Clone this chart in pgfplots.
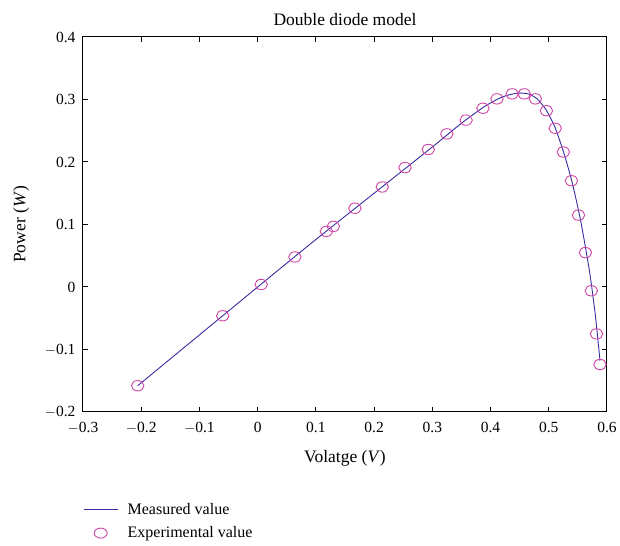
\documentclass[border=0pt]{standalone}
\usepackage{pgfplots}
\pgfplotsset{compat=1.18}
\usepackage{fontspec}
\setmainfont{Liberation Serif}
\definecolor{linec}{RGB}{55,45,160}
\definecolor{markc}{RGB}{205,70,165}
\begin{document}
\begin{tikzpicture}
\begin{axis}[
  scale only axis, width=524pt, height=375pt,
  xmin=-0.3, xmax=0.6, ymin=-0.2, ymax=0.4,
  xtick={-0.3,-0.2,...,0.6}, ytick={-0.2,-0.1,...,0.4},
  xticklabels={$-$0.3,$-$0.2,$-$0.1,0,0.1,0.2,0.3,0.4,0.5,0.6},
  yticklabels={$-$0.2,$-$0.1,0,0.1,0.2,0.3,0.4},
  tick align=inside, major tick length=5pt,
  axis line style={line width=1pt}, tick style={line width=1pt, black},
  ticklabel style={font=\fontsize{15.5}{17}\selectfont},
  xticklabel style={yshift=-7pt},
  yticklabel style={xshift=-4pt},
  /pgf/number format/assume math mode=true,
  title={Double diode model}, title style={font=\fontsize{17.5}{19}\selectfont, yshift=2pt},
  xlabel={Volatge (\textit{V})}, ylabel={Power (\textit{W})},
  label style={font=\fontsize{17.5}{19}\selectfont},
  xlabel style={yshift=-9pt},
  ylabel style={yshift=9pt},
  legend style={at={(0,-0.232)}, anchor=north west, draw=none, font=\fontsize{16}{18}\selectfont, row sep=7pt, fill=none, inner xsep=0pt},
  legend cell align=left,
]
\addplot[linec, line width=0.9pt, smooth, tension=0.4, legend image code/.code={\draw[line width=0.9pt,linec] (0pt,0pt) -- (34pt,0pt); \path[draw=none,fill=none] (0pt,0pt) -- (42pt,0pt);}] coordinates {
(-0.206,-0.158) (0.0,0.0) (0.1,0.076) (0.2,0.150) (0.3,0.224) (0.35,0.262) (0.39,0.289) (0.42,0.304) (0.445,0.310) (0.465,0.309) (0.48,0.301) (0.495,0.284) (0.51,0.257) (0.525,0.217) (0.54,0.168) (0.555,0.105) (0.57,0.025) (0.58,-0.045) (0.588,-0.118)};
\addlegendentry{Measured value}
\addplot[only marks, mark=o, mark size=5.2pt, markc, mark options={line width=0.9pt, xscale=1.2}, legend image code/.code={\draw[markc, line width=0.9pt] (17pt,0pt) ellipse (6.5pt and 5pt); \path[draw=none,fill=none] (0pt,0pt) -- (42pt,0pt);}] coordinates {
(-0.206,-0.158) (-0.060,-0.046) (0.006,0.004) (0.064,0.048) (0.118,0.089) (0.130,0.097) (0.167,0.126) (0.214,0.160) (0.253,0.191) (0.293,0.220) (0.325,0.245) (0.358,0.267) (0.387,0.286) (0.411,0.301) (0.437,0.309) (0.458,0.309) (0.477,0.301) (0.496,0.282) (0.511,0.254) (0.525,0.216) (0.539,0.170) (0.551,0.115) (0.563,0.055) (0.573,-0.006) (0.582,-0.075) (0.588,-0.124)};
\addlegendentry{Experimental value}
\end{axis}
\path[use as bounding box] (-83pt,-134pt) rectangle (537pt,412pt);
\end{tikzpicture}
\end{document}
